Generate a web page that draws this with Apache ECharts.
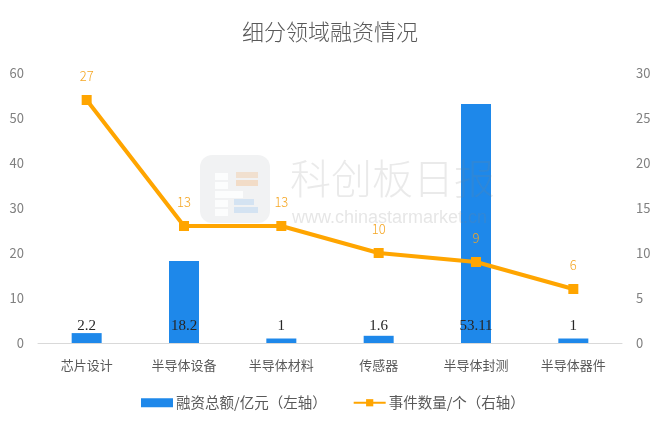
<!DOCTYPE html>
<html><head><meta charset="utf-8">
<script src="https://cdn.jsdelivr.net/npm/echarts@6/dist/echarts.min.js"></script>
<style>html,body{margin:0;padding:0;background:#fff}#c{width:660px;height:429px}</style>
</head><body><div id="c"></div>
<script>
const categories = ['芯片设计','半导体设备','半导体材料','传感器','半导体封测','半导体器件'];
const amounts = [2.2, 18.2, 1, 1.6, 53.11, 1];
const counts = [27, 13, 13, 10, 9, 6];
const titleText = '细分领域融资情况';
const barName = '融资总额/亿元（左轴）';
const lineName = '事件数量/个（右轴）';
const font = '"Noto Sans CJK SC", "Noto Sans", sans-serif';

const wm = [
  {type: 'rect', left: 200, top: 155, shape: {width: 70, height: 68, r: 12}, style: {fill: 'rgba(120,130,140,0.1)'}},
  {type: 'rect', left: 215, top: 173, shape: {width: 13, height: 7}, style: {fill: 'rgba(255,255,255,0.8)'}},
  {type: 'rect', left: 215, top: 182, shape: {width: 13, height: 7}, style: {fill: 'rgba(255,255,255,0.8)'}},
  {type: 'rect', left: 215, top: 191, shape: {width: 28, height: 7}, style: {fill: 'rgba(255,255,255,0.8)'}},
  {type: 'rect', left: 215, top: 200, shape: {width: 13, height: 7}, style: {fill: 'rgba(255,255,255,0.8)'}},
  {type: 'rect', left: 215, top: 209, shape: {width: 13, height: 7}, style: {fill: 'rgba(255,255,255,0.8)'}},
  {type: 'rect', left: 236, top: 172, shape: {width: 22, height: 6}, style: {fill: 'rgba(245,170,100,0.25)'}},
  {type: 'rect', left: 236, top: 180, shape: {width: 22, height: 6}, style: {fill: 'rgba(245,170,100,0.3)'}},
  {type: 'rect', left: 234, top: 199, shape: {width: 20, height: 6}, style: {fill: 'rgba(100,170,240,0.2)'}},
  {type: 'rect', left: 234, top: 207, shape: {width: 24, height: 6}, style: {fill: 'rgba(100,170,240,0.2)'}},
  {type: 'text', left: 290, top: 158, style: {text: '科创板日报', font: '300 41px ' + font, fill: 'rgba(128,128,128,0.17)'}},
  {type: 'text', left: 292, top: 209, style: {text: 'www.chinastarmarket.cn', font: '18px "Liberation Sans", sans-serif', fill: 'rgba(128,128,128,0.2)'}}
].map(e => Object.assign(e, {z: 100, silent: true}));

const chart = echarts.init(document.getElementById('c'), null, {renderer: 'canvas'});
chart.setOption({
  animation: false,
  backgroundColor: '#fff',
  title: {text: titleText, left: 'center', top: 16,
    textStyle: {fontFamily: font, fontSize: 22, fontWeight: 300, color: '#595959'}},
  graphic: wm,
  legend: {bottom: 14, left: 136, itemGap: 26, itemWidth: 32, itemHeight: 9,
    textStyle: {fontFamily: font, fontSize: 14.5, color: '#595959', padding: [0, 0, 0, -2]},
    data: [{name: barName, icon: 'rect'}, {name: lineName}]},
  grid: {left: 38, right: 38, top: 73, bottom: 86, outerBoundsMode: 'none'},
  xAxis: {type: 'category', data: categories,
    axisLine: {lineStyle: {color: '#d9d9d9', width: 1}}, axisTick: {show: false},
    axisLabel: {fontFamily: font, fontSize: 13, color: '#595959', margin: 16}},
  yAxis: [
    {type: 'value', min: 0, max: 60, interval: 10, splitLine: {show: false},
     axisLine: {show: false}, axisTick: {show: false},
     axisLabel: {fontFamily: font, fontSize: 13, color: '#808080', margin: 14}},
    {type: 'value', min: 0, max: 30, interval: 5, splitLine: {show: false},
     axisLine: {show: false}, axisTick: {show: false},
     axisLabel: {fontFamily: font, fontSize: 13, color: '#808080', margin: 14}}
  ],
  series: [
    {name: barName, type: 'bar', data: amounts, yAxisIndex: 0, barWidth: 30,
     itemStyle: {color: '#1E88EA'},
     label: {show: true, position: 'insideBottom', distance: 9, color: '#262626',
       fontFamily: '"Liberation Serif", "DejaVu Serif", serif', fontSize: 15}},
    {name: lineName, type: 'line', data: counts, yAxisIndex: 1,
     symbol: 'rect', symbolSize: 10,
     lineStyle: {color: '#FFA500', width: 4}, itemStyle: {color: '#FFA500'},
     label: {show: true, position: 'top', distance: 12, color: '#F5A623',
       fontFamily: font, fontSize: 13, fontWeight: 300}}
  ]
});
</script></body></html>
